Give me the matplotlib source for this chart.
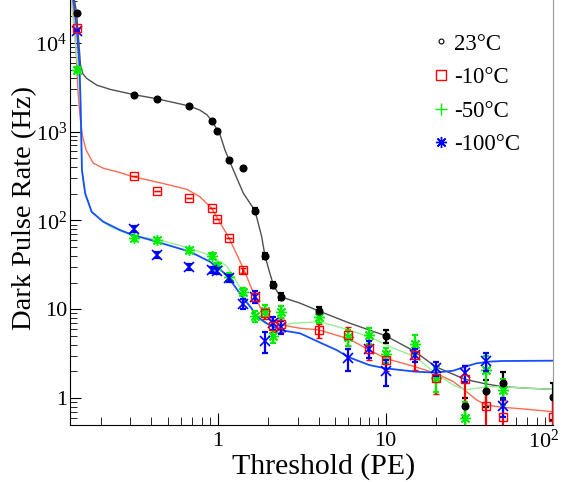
import numpy as np
import matplotlib
matplotlib.use("Agg")
import matplotlib.pyplot as plt
from matplotlib.lines import Line2D
from matplotlib.ticker import FixedLocator, LogLocator, NullFormatter

plt.rcParams['font.family'] = ['Liberation Serif', 'DejaVu Serif']
plt.rcParams['mathtext.fontset'] = 'custom'
plt.rcParams['mathtext.rm'] = 'Liberation Serif'

# measured points (threshold in PE, rate in Hz)
x_23 = [0.143, 0.314, 0.434, 0.674, 0.917, 0.986, 1.16, 1.416, 1.66, 1.91, 2.14, 2.37, 4.0, 10.0, 30, 40, 50, 100]
y_23 = [21800, 2620, 2350, 1950, 1320, 1010, 477, 387, 129, 40, 18.8, 13.9, 9.6, 5.0, 0.81, 1.2, 1.46, 1.02]
e_23 = [0, 0, 0, 0, 0, 0, 0, 0, 8, 3, 1.5, 1.3, 0.9, 0.8, 0.2, 0.4, 0.5, 0.45]

x_m10 = [0.143, 0.314, 0.434, 0.674, 0.917, 0.986, 1.16, 1.416, 1.66, 1.91, 2.14, 2.37, 4.0, 6.0, 8.0, 10.0, 15, 20, 30, 40, 50, 100]
y_m10 = [14600, 320, 213, 178, 137, 103, 63, 27.4, 13.9, 9.0, 6.5, 6.8, 5.8, 5.1, 3.6, 2.7, 3.05, 1.7, 1.62, 0.81, 0.61, 0.61]
e_m10 = [0, 0, 0, 0, 0, 0, 0, 1.5, 1.5, 1.2, 1.0, 1.2, 1.0, 1.2, 0.9, 0.7, 1.0, 0.6, 0.75, 0.4, 0.35, 0.4]

x_m50 = [0.143, 0.314, 0.434, 0.674, 0.917, 0.986, 1.16, 1.416, 1.66, 1.91, 2.14, 2.37, 4.0, 6.0, 8.0, 10.0, 15, 20, 30, 40, 50]
y_m50 = [5000, 63, 60, 46, 40, 31, 23.3, 15.8, 8.4, 9.6, 5.0, 9.4, 8.2, 4.9, 5.1, 3.1, 4.1, 1.67, 0.59, 2.07, 1.23]
e_m50 = [300, 4, 4, 3, 3, 2.5, 2, 1.5, 1.2, 1.5, 0.8, 1.5, 1.2, 1.0, 1.0, 0.6, 1.0, 0.5, 0.3, 0.9, 0.4]

x_m100 = [0.143, 0.314, 0.434, 0.674, 0.917, 0.986, 1.16, 1.416, 1.66, 1.91, 2.14, 2.37, 6.0, 8.0, 10.0, 15, 20, 30, 40, 50]
y_m100 = [13800, 80, 41, 30, 28, 27, 22.3, 11.6, 13.9, 4.4, 7.0, 6.3, 2.8, 3.6, 2.0, 3.05, 2.16, 1.9, 2.6, 0.81]
e_m100 = [0, 6, 3, 2.5, 2.2, 2, 1.8, 1.5, 2, 1.2, 1.2, 1.0, 0.8, 0.8, 0.65, 0.5, 0.4, 0.4, 0.6, 0.2]

# fitted curves
fx_23 = [0.139, 0.143, 0.148, 0.151, 0.156, 0.164, 0.189, 0.227, 0.314, 0.432, 0.674, 0.78, 0.86, 0.93, 1.03, 1.10,
         1.234, 1.416, 1.662, 1.823, 1.907, 2.04, 2.14, 2.345, 3.09, 4.0, 6.13, 10.0, 15, 19.9, 29.9, 39.8, 49.9, 69.7, 100]
fy_23 = [30500, 21800, 9500, 5650, 4500, 4000, 3350, 3000, 2620, 2350, 1950, 1750, 1550, 1280, 920, 623,
         371, 203, 129, 65.7, 39.8, 25.4, 18.8, 13.9, 11.7, 9.55, 6.95, 5.03, 3.33, 2.25, 1.62, 1.44, 1.34, 1.29, 1.25]

fx_m10 = [0.135, 0.142, 0.146, 0.150, 0.155, 0.163, 0.180, 0.207, 0.249, 0.312, 0.45, 0.65, 0.78, 0.917, 1.158, 1.416,
          1.662, 1.823, 2.04, 2.40, 3.09, 4.0, 6.06, 8.0, 9.97, 15, 19.9, 25.4, 29.9, 35, 39.8, 49.9, 69.7, 100]
fy_m10 = [30500, 8300, 2800, 1500, 900, 623, 442, 387, 355, 311, 266, 225, 185, 137, 64.6, 28.9,
          13.9, 9.8, 7.9, 6.64, 6.1, 5.85, 4.62, 3.47, 2.8, 2.25, 1.9, 1.53, 1.21, 0.95, 0.834, 0.786, 0.746, 0.70]

fx_m50 = [0.133, 0.140, 0.146, 0.151, 0.154, 0.161, 0.176, 0.206, 0.227, 0.312, 0.43, 0.68, 0.917, 1.127, 1.385,
          1.553, 1.78, 2.09, 2.82, 4.02, 5.6, 8.0, 11.2, 15, 19.9, 25.4, 29.9, 35, 42, 49.9, 69.7, 100]
fy_m50 = [30500, 10700, 5190, 2270, 371, 202, 125, 97, 85, 66.5, 61.5, 48.5, 39.8, 30.7, 16.5,
          10.7, 7.56, 6.36, 6.95, 7.25, 6.1, 4.9, 3.63, 2.92, 1.9, 1.4, 1.23, 1.29, 1.34, 1.34, 1.29, 1.25]

fx_m100 = [0.137, 0.143, 0.149, 0.151, 0.154, 0.161, 0.176, 0.206, 0.26, 0.312, 0.43, 0.68, 0.896, 1.127, 1.416,
           1.588, 1.662, 1.95, 2.345, 3.09, 4.0, 5.1, 6.06, 8.0, 9.97, 15, 19.9, 25.4, 29.9, 35, 42, 49.9, 100]
fy_m100 = [30500, 15300, 5400, 2270, 371, 202, 125, 97, 78, 68.5, 57.6, 44.5, 34.3, 24.3, 13.3,
           10.2, 8.6, 6.95, 5.83, 5.35, 4.27, 3.47, 2.87, 2.35, 2.16, 1.98, 1.93, 2.03, 2.25, 2.46, 2.57, 2.61, 2.63]

labels = ['23\u00b0C', '-10\u00b0C', '-50\u00b0C', '-100\u00b0C']

fig = plt.figure(figsize=(5.64, 4.82), dpi=100)
ax = fig.add_axes([70 / 564, 57 / 482, 483 / 564, 425 / 482])
ax.set_xscale('log')
ax.set_yscale('log')

ax.plot(fx_23, fy_23, color='#505050', lw=1.0)
ax.plot(fx_m10, fy_m10, color='#ff6a50', lw=1.0)
ax.plot(fx_m50, fy_m50, color='#98ee98', lw=1.0)
ax.plot(fx_m100, fy_m100, color='#1450ff', lw=1.3)

ax.errorbar(x_23, y_23, yerr=e_23, fmt='o', ms=4.8, color='black', mfc='black',
            elinewidth=1.6, capsize=2.5, capthick=1.6)
ax.errorbar(x_m10, y_m10, yerr=e_m10, fmt='s', ms=5.5, color='red', mfc='none', mew=1.0,
            elinewidth=1.6, capsize=2.5, capthick=1.6)
ax.errorbar(x_m50, y_m50, yerr=e_m50, fmt='none', color='#00ee00',
            elinewidth=1.6, capsize=2.5, capthick=1.6)
ax.plot(x_m50, y_m50, ls='none', marker=(8, 2, 0), ms=8, color='#00ee00', mew=1.0)
ax.errorbar(x_m100, y_m100, yerr=e_m100, fmt='none', color='#0000ff',
            elinewidth=1.6, capsize=2.5, capthick=1.6)
ax.plot(x_m100, y_m100, ls='none', marker='x', ms=7, color='#0000ff', mew=1.2)

ax.set_xlim(0.1307, 100)
ax.set_ylim(0.496, 30500)

ax.xaxis.set_major_locator(FixedLocator([1, 10, 100]))
ax.set_xticklabels(['1', '10', ''])
ax.yaxis.set_major_locator(FixedLocator([1, 10, 100, 1000, 10000]))
ax.set_yticklabels(['1', '10', r'$\mathregular{10^{2}}$', r'$\mathregular{10^{3}}$', r'$\mathregular{10^{4}}$'])
ax.xaxis.set_minor_locator(LogLocator(base=10, subs=np.arange(2, 10)))
ax.yaxis.set_minor_locator(LogLocator(base=10, subs=np.arange(2, 10)))
ax.xaxis.set_minor_formatter(NullFormatter())
ax.yaxis.set_minor_formatter(NullFormatter())
ax.tick_params(which='both', direction='in', labelsize=16, top=False, right=False)
ax.tick_params(axis='x', which='major', length=9, pad=5)
ax.tick_params(axis='x', which='minor', length=6)
ax.tick_params(axis='y', which='major', length=8, pad=2)
ax.tick_params(axis='y', which='minor', length=5)

# last x label sits a bit left of its tick so it stays inside the figure
ax.annotate(r'$\mathregular{10^{2}}$', xy=(100, 0), xycoords=('data', 'axes fraction'),
            xytext=(-7, -3.6), textcoords='offset points', ha='center', va='top', fontsize=16)

ax.spines['top'].set_visible(False)
ax.spines['right'].set_color('#999999')

ax.set_xlabel('Threshold (PE)', fontsize=21.5)
ax.xaxis.set_label_coords((324 - 70) / 483, -0.066)
ax.set_ylabel('Dark Pulse Rate (Hz)', fontsize=20.5)
ax.yaxis.set_label_coords(-0.068, 0.51)

handles = [
    Line2D([], [], ls='none', marker='o', ms=3.5, mfc='none', mec='black', mew=0.8),
    Line2D([], [], ls='none', marker='s', ms=7, mfc='none', mec='red', mew=1.0),
    Line2D([], [], ls='none', marker='+', ms=8, color='#00ee00', mew=1.0),
    Line2D([], [], ls='none', marker=(8, 2, 0), ms=8, color='#0000ff', mew=1.0),
]
ax.legend(handles, labels, loc='upper left', bbox_to_anchor=(423 / 564, 1 - 22 / 482),
          bbox_transform=fig.transFigure, frameon=False, fontsize=16.5,
          handlelength=0.6, handletextpad=0.25, labelspacing=0.55, borderpad=0)

fig.savefig('out.png', dpi=100)
